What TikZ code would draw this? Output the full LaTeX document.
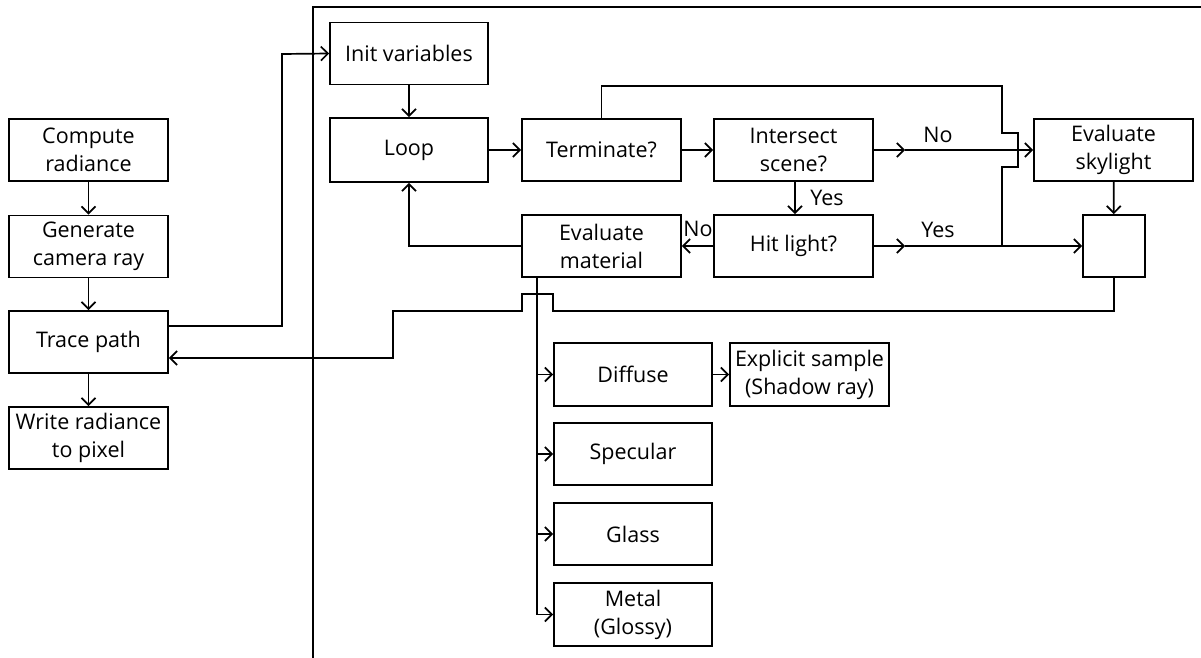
\documentclass[tikz,border=0pt]{standalone}
\usepackage{fontspec}
\setmainfont{Open Sans}
\usetikzlibrary{arrows.meta}
\begin{document}
\begin{tikzpicture}[x=1pt,y=-1pt,
  box/.style={draw, line width=1.8pt, minimum width=159pt, minimum height=62pt,
    inner sep=0pt, align=center, font=\fontsize{21.5}{28}\selectfont},
  ln/.style={line width=1.7pt},
  arr/.style={line width=1.7pt, -{Straight Barb[length=7pt,width=14pt,line width=1.7pt]}},
  lbl/.style={inner sep=0pt, font=\fontsize{21.5}{28}\selectfont}]
\useasboundingbox (0,0) rectangle (1201,658);

% outer frame of the path tracing kernel
\draw[ln] (313,658) -- (313,7) -- (1201,7);

% host side
\node[box] (compute)  at (88.5,150)   {Compute\\radiance};
\node[box] (generate) at (88.5,246.5) {Generate\\camera ray};
\node[box] (trace)    at (88.5,342)   {Trace path};
\node[box] (write)    at (88.5,438)   {Write radiance\\to pixel};

% kernel
\node[box, minimum width=158pt] (init) at (409,53.5) {Init variables};
\node[box, minimum width=158pt, minimum height=64pt] (loop) at (409,150) {Loop};
\node[box] (term)    at (601.5,150) {Terminate?};
\node[box] (inter)   at (793.5,150) {Intersect\\scene?};
\node[box] (hit)     at (793.5,246) {Hit light?};
\node[box] (evalmat) at (601.5,246) {Evaluate\\material};
\node[box] (sky)     at (1113.5,150) {Evaluate\\skylight};
\node[box, minimum width=62pt] (acc) at (1114,246) {};

% materials
\node[box, minimum width=158pt, minimum height=63pt] (diffuse)  at (633,374.5) {Diffuse};
\node[box, minimum height=63pt] (explicit) at (809.5,374.5) {Explicit sample\\(Shadow ray)};
\node[box, minimum width=158pt] (specular) at (633,454) {Specular};
\node[box, minimum width=158pt] (glass)    at (633,534) {Glass};
\node[box, minimum width=158pt, minimum height=63pt] (metal) at (633,614.5) {Metal\\(Glossy)};

% host flow
\draw[arr] (compute) -- (generate);
\draw[arr] (generate) -- (trace);
\draw[arr] (trace) -- (write);
\draw[arr] ([yshift=16pt]trace.east) -| (282,54) -- (init.west);

% kernel flow
\draw[arr] (init) -- (loop);
\draw[arr] (loop) -- (term);
\draw[arr] (term) -- (inter);
\draw[arr] ([xshift=1.5pt]inter.south) -- ([xshift=1.5pt]hit.north);
\node[lbl] (yes1) at (827,198) {Yes};
\draw[arr] (hit) -- (evalmat);
\node[lbl] (no2) at (698,229) {No};
\draw[arr] (evalmat.west) -| (loop.south);

% miss -> skylight
\coordinate (nomid) at (905,150);
\draw[arr] (inter.east) -- (nomid);
\draw[arr] (nomid) -- (sky.west);
\node[lbl] (no1) at (938,135) {No};

% light hit -> accumulate
\coordinate (yesmid) at (905,246);
\draw[arr] (hit.east) -- (yesmid);
\draw[arr] (yesmid) -- (acc.west);
\node[lbl] (yes2) at (938,230) {Yes};

% terminate path, hopping over the miss branch
\draw[ln] (term.north) |- (1002,86) -- (1002,133) -- (1018,133) -- (1018,167)
  -- (1002,167) -- (1002,246);

\draw[arr] (sky) -- (acc);

% result back to the host, hopping over the material bus
\draw[arr] (acc.south) |- (553,311) -- (553,294) -- (522,294) -- (522,311)
  -| (393,358) -- ([yshift=-16pt]trace.east);

% material bus
\coordinate (bus) at ([xshift=16pt]evalmat.south west);
\draw[arr] (bus) |- (metal.west);
\draw[arr] (bus |- diffuse.west) -- (diffuse.west);
\draw[arr] (bus |- specular.west) -- (specular.west);
\draw[arr] (bus |- glass.west) -- (glass.west);
\draw[arr] (diffuse) -- (explicit);
\end{tikzpicture}
\end{document}
